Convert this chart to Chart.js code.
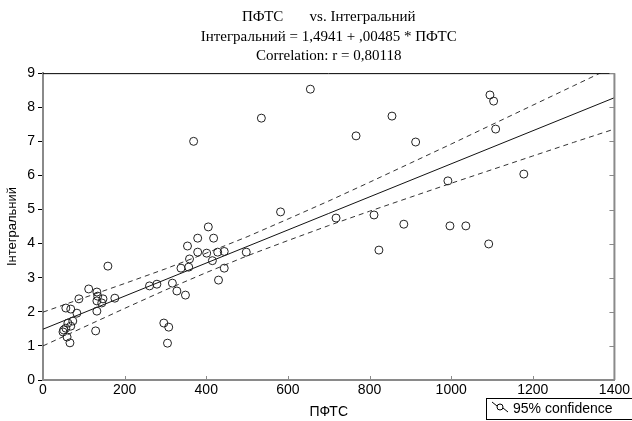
<!DOCTYPE html>
<html>
<head>
<meta charset="utf-8">
<script src="https://cdn.jsdelivr.net/npm/chart.js@4/dist/chart.umd.min.js"></script>
<style>
  body { margin: 0; background: #fff; }
</style>
</head>
<body>
<canvas id="scatterChart" width="632" height="421"></canvas>
<script>
// Observed values (ПФТС, Інтегральний)
const ptfs = [
  159, 112, 132, 134, 147, 132, 144, 176, 88, 56, 68, 83, 132, 73, 61, 68, 56, 51, 49, 129, 59, 66,
  405, 379, 418, 354, 359, 379, 401, 428, 444, 415, 498, 338, 357, 444, 430, 317, 279, 261, 328, 349, 296, 308, 305,
  655, 535, 369, 767, 855, 913, 1095, 1104, 1109, 1178, 992, 997, 1036, 1092, 823, 884, 811, 718, 582
];
const integral = [
  3.34, 2.67, 2.58, 2.46, 2.38, 2.32, 2.26, 2.40, 2.38, 2.11, 2.08, 1.96, 2.02, 1.73, 1.67, 1.58, 1.52, 1.47, 1.41, 1.44, 1.26, 1.09,
  4.49, 4.16, 4.16, 3.93, 3.55, 3.75, 3.72, 3.75, 3.77, 3.50, 3.75, 3.28, 3.31, 3.28, 2.93, 2.84, 2.81, 2.76, 2.61, 2.49, 1.67, 1.55, 1.08,
  8.53, 7.68, 7.00, 7.16, 7.74, 6.98, 8.36, 8.18, 7.36, 6.04, 5.84, 4.52, 4.52, 3.99, 3.81, 4.57, 4.84, 4.75, 4.93
];

// Fitted line end points
const fitX = [0, 1400];
const fitY = [1.49, 8.28];

// 95% confidence band
const bandX = [0, 100, 200, 300, 400, 500, 600, 700, 800, 900, 1000, 1100, 1200, 1300, 1400];
const bandUpper = [1.99, 2.41, 2.83, 3.26, 3.72, 4.20, 4.72, 5.25, 5.80, 6.36, 6.92, 7.49, 8.06, 8.63, 9.20];
const bandLower = [1.00, 1.55, 2.10, 2.64, 3.15, 3.64, 4.09, 4.53, 4.95, 5.36, 5.77, 6.17, 6.57, 6.97, 7.36];

const titleLines = [
  'ПФТС       vs. Інтегральний',
  'Інтегральний = 1,4941 + ,00485 * ПФТС',
  'Correlation: r = 0,80118'
];
const xTitle = 'ПФТС';
const yTitle = 'Інтегральний';
const legendText = '95% confidence';

const toPoints = (xs, ys) => xs.map((x, i) => ({ x: x, y: ys[i] }));

const sansFont = 'Liberation Sans, Arial, sans-serif';
const axisGray = '#8a8a8a';

// Frame: top border, right axis and inward ticks
const framePlugin = {
  id: 'frame',
  afterDatasetsDraw(chart) {
    const { ctx, chartArea: a, scales } = chart;
    ctx.save();
    ctx.strokeStyle = '#000';
    ctx.lineWidth = 1;
    ctx.beginPath();
    ctx.moveTo(a.left, a.top + 0.5);
    ctx.lineTo(a.right, a.top + 0.5);
    ctx.stroke();

    ctx.strokeStyle = axisGray;
    ctx.lineWidth = 2;
    ctx.beginPath();
    ctx.moveTo(a.right, a.top);
    ctx.lineTo(a.right, a.bottom);
    ctx.stroke();

    ctx.lineWidth = 1;
    ctx.beginPath();
    scales.y.ticks.forEach(t => {
      const py = Math.round(scales.y.getPixelForValue(t.value)) + 0.5;
      ctx.moveTo(a.right, py);
      ctx.lineTo(a.right - 5, py);
    });
    scales.x.ticks.forEach(t => {
      const px = Math.round(scales.x.getPixelForValue(t.value)) + 0.5;
      ctx.moveTo(px, a.bottom);
      ctx.lineTo(px, a.bottom - 4);
    });
    ctx.stroke();
    ctx.restore();
  }
};

// Legend box at the bottom right
const legendPlugin = {
  id: 'boxLegend',
  afterDraw(chart) {
    const ctx = chart.ctx;
    ctx.save();
    ctx.strokeStyle = '#000';
    ctx.lineWidth = 1;
    ctx.strokeRect(486.5, 398.5, 160, 21);
    ctx.beginPath();
    ctx.moveTo(492, 402);
    ctx.lineTo(497, 406);
    ctx.moveTo(503, 408);
    ctx.lineTo(508, 412);
    ctx.stroke();
    ctx.beginPath();
    ctx.arc(500, 407, 3, 0, Math.PI * 2);
    ctx.stroke();
    ctx.fillStyle = '#000';
    ctx.font = '14px ' + sansFont;
    ctx.textBaseline = 'middle';
    ctx.fillText(legendText, 513, 409);
    ctx.restore();
  }
};

const ctx = document.getElementById('scatterChart').getContext('2d');

const myChart = new Chart(ctx, {
  type: 'scatter',
  data: {
    datasets: [
      {
        label: 'points',
        data: toPoints(ptfs, integral),
        pointStyle: 'circle',
        pointRadius: 4,
        pointBorderWidth: 1,
        pointBorderColor: '#222',
        pointBackgroundColor: 'rgba(0,0,0,0)',
        showLine: false
      },
      {
        label: 'fit',
        data: toPoints(fitX, fitY),
        showLine: true,
        borderColor: '#111',
        borderWidth: 1,
        pointRadius: 0
      },
      {
        label: 'upper',
        data: toPoints(bandX, bandUpper),
        showLine: true,
        borderColor: '#333',
        borderWidth: 1,
        borderDash: [5, 4],
        pointRadius: 0
      },
      {
        label: 'lower',
        data: toPoints(bandX, bandLower),
        showLine: true,
        borderColor: '#333',
        borderWidth: 1,
        borderDash: [5, 4],
        pointRadius: 0
      }
    ]
  },
  options: {
    responsive: false,
    animation: false,
    layout: { padding: { left: 0, right: 16, top: 0, bottom: 0 } },
    plugins: {
      legend: { display: false },
      tooltip: { enabled: false },
      title: {
        display: true,
        fullSize: false,
        text: titleLines,
        color: '#000',
        font: { family: 'Liberation Serif, Times New Roman, serif', size: 15, weight: 'normal', lineHeight: 1.27 },
        padding: { top: 8, bottom: 8 }
      }
    },
    scales: {
      x: {
        type: 'linear',
        min: 0,
        max: 1400,
        afterFit: s => { s.height = 41; },
        ticks: {
          stepSize: 200,
          color: '#000',
          font: { family: sansFont, size: 14 },
          padding: 2,
          maxRotation: 0,
          callback: v => String(v) // no thousands separator
        },
        grid: { display: true, drawOnChartArea: false, drawTicks: false },
        border: { color: axisGray, width: 2 },
        title: { display: true, text: xTitle, color: '#000', font: { family: sansFont, size: 14 }, padding: { top: 4, bottom: 0 } }
      },
      y: {
        min: 0,
        max: 9,
        afterFit: s => { s.width = 43; },
        ticks: { stepSize: 1, color: '#000', font: { family: sansFont, size: 14 }, padding: 3 },
        grid: { display: true, drawOnChartArea: false, drawTicks: true, tickLength: 5, color: '#000' },
        border: { color: axisGray, width: 2 },
        title: { display: true, text: yTitle, color: '#000', font: { family: sansFont, size: 13 }, padding: { top: 5, bottom: 0 } }
      }
    }
  },
  plugins: [framePlugin, legendPlugin]
});
</script>
</body>
</html>
